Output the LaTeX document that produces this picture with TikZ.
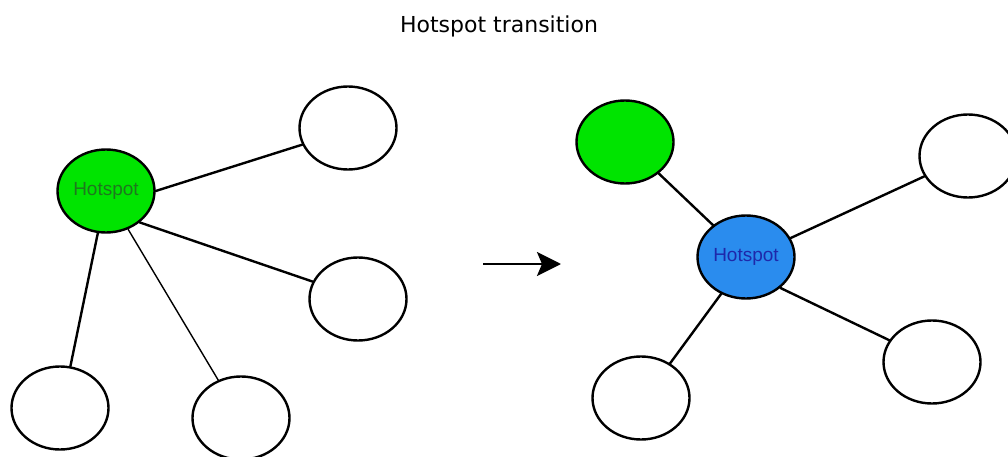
\documentclass[tikz,border=0pt]{standalone}
\usepackage{fontspec}
\setmainfont{Liberation Sans}
\newfontfamily\titlefont{DejaVu Sans}
\usetikzlibrary{shapes.geometric,arrows.meta}
\definecolor{hgreen}{RGB}{0,228,0}
\definecolor{hblue}{RGB}{42,140,238}
\definecolor{tgreen}{RGB}{30,120,30}
\definecolor{tblue}{RGB}{30,40,170}
\tikzset{
  peer/.style={ellipse, draw=black, line width=2.4pt, fill=white, minimum width=97pt, minimum height=83pt, inner sep=0pt},
  greenpeer/.style={peer, fill=hgreen},
  bluepeer/.style={peer, fill=hblue},
  link/.style={line width=2.4pt, line cap=round},
  thinlink/.style={line width=1.4pt, line cap=round},
  lbl/.style={font=\fontsize{19}{22}\selectfont}
}
\begin{document}
\begin{tikzpicture}[x=1pt,y=-1pt]
\useasboundingbox (0,0) rectangle (1008,457);
\fill[white] (0,0) rectangle (1008,457);
\node[anchor=base, font=\titlefont\fontsize{22}{26}\selectfont] (title) at (499,33) {Hotspot transition};
% left graph
\node[greenpeer, lbl, text=tgreen] (hs1) at (106,191) {Hotspot};
\node[peer] (tr1) at (348,128) {};
\node[peer] (mr1) at (358,299) {};
\node[peer] (bl1) at (60,408) {};
\node[peer] (bm1) at (241,418) {};
\draw[link] (hs1.0) -- (tr1.200);
\draw[link] (hs1.317) -- (mr1.159);
\draw[link] (hs1.259) -- (bl1.76);
\draw[thinlink] (hs1.300) -- (bm1.121);
% arrow
\coordinate (as) at (483,264);
\coordinate (ae) at (561,264);
\draw[line width=2.8pt, -{Stealth[length=24pt,width=24pt,inset=5pt]}] (as) -- (ae);
% right graph
\node[greenpeer] (g2) at (625,142) {};
\node[bluepeer, lbl, text=tblue] (hs2) at (746,257) {Hotspot};
\node[peer] (tr2) at (968,156) {};
\node[peer] (lr2) at (932,362) {};
\node[peer] (bl2) at (641,398) {};
\draw[link] (g2.317) -- (hs2.136);
\draw[link] (hs2.23) -- (tr2.205);
\draw[link] (hs2.318) -- (lr2.153);
\draw[link] (hs2.236) -- (bl2.50);
\end{tikzpicture}
\end{document}
